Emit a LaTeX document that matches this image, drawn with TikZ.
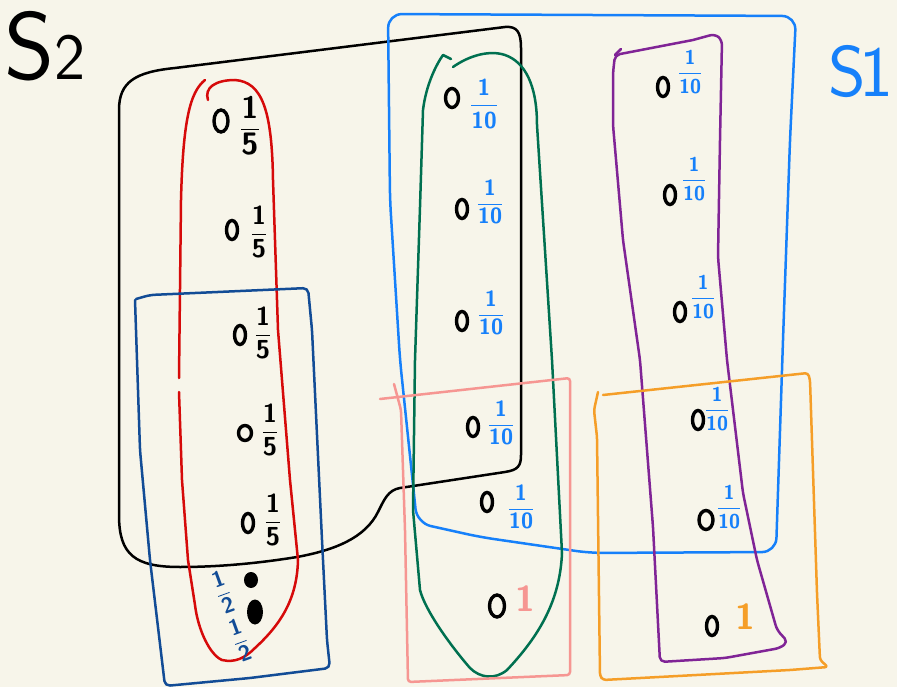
\documentclass[tikz,border=0pt]{standalone}
\usepackage{amsmath}
\usetikzlibrary{shapes.geometric}
\definecolor{bgc}{RGB}{247,245,234}
\definecolor{cred}{RGB}{214,10,10}
\definecolor{cdblue}{RGB}{18,76,150}
\definecolor{cblue}{RGB}{22,128,250}
\definecolor{cgreen}{RGB}{0,112,80}
\definecolor{cpink}{RGB}{246,150,146}
\definecolor{cpurple}{RGB}{128,36,150}
\definecolor{corange}{RGB}{245,158,40}
\newcommand\hfr[2]{$\dfrac{\textsf{\bfseries #1}}{\textsf{\bfseries #2}}$}
\tikzset{
  stroke/.style={line width=2.5pt, line cap=round, line join=round},
  pt/.style={ellipse, draw=black, line width=3.4pt, minimum width=11pt, minimum height=19pt, inner sep=0pt},
  dotf/.style={ellipse, fill=black, inner sep=0pt},
  fracl/.style={inner sep=0pt, font=\fontsize{#1}{#1}\selectfont},
  bigone/.style={inner sep=0pt, font=\sffamily\bfseries\fontsize{36}{36}\selectfont}
}
\begin{document}
\begin{tikzpicture}[x=1pt,y=-1pt]
\fill[bgc] (0,0) rectangle (897,687);
\useasboundingbox (0,0) rectangle (897,687);

% titles
\node[anchor=base west, inner sep=0pt] (s2) at (4,80) {\sffamily\fontsize{96}{96}\selectfont S\fontsize{66}{66}\selectfont 2};
\node[anchor=base west, inner sep=0pt, text=cblue] (s1) at (828,97) {\sffamily\fontsize{72}{72}\selectfont S\kern-6pt 1};

% black set S2
\draw[stroke, black] (119,330) -- (119,110) .. controls (119,82) and (135,72) .. (175,68) -- (505,27) .. controls (517,26) and (521,32) .. (521,48) -- (521,455) .. controls (521,466) and (518,470) .. (505,472) -- (400,488) .. controls (388,490) and (384,500) .. (378,512) .. controls (365,538) and (335,550) .. (297,557) .. controls (260,563) and (220,567) .. (180,567) .. controls (135,567) and (119,555) .. (119,515) -- cycle;

% red
\draw[stroke, cred] (179,378) -- (181,200) .. controls (183,120) and (190,92) .. (205,80);
\draw[stroke, cred] (208,100) .. controls (204,88) and (215,80) .. (235,80) .. controls (262,82) and (272,110) .. (273,180) -- (278,330) -- (290,480) -- (298,560) .. controls (297,600) and (280,625) .. (255,648) .. controls (245,658) and (235,663) .. (222,660) .. controls (210,655) and (198,630) .. (195,605) -- (188,560) -- (182,480) -- (179,392);

% dark blue
\draw[stroke, cdblue, rounded corners=5pt] (136,299) -- (150,295) -- (308,288) -- (312,330) -- (322,540) -- (327,640) -- (330,668) -- (250,678) -- (165,686) -- (150,560) -- (140,450) -- (135,300);

% blue S1
\draw[stroke, cblue, rounded corners=14pt] (388,14) -- (796,16) -- (790,140) -- (783,340) -- (776,552) -- (590,553) -- (480,537) -- (417,523) -- (400,360) -- (390,200) -- cycle;

% green
\draw[stroke, cgreen] (453,67) .. controls (470,55) and (490,50) .. (505,55) .. controls (525,62) and (537,85) .. (537,125) -- (552,360) -- (562,553) .. controls (560,600) and (540,635) .. (507,670) .. controls (495,680) and (480,678) .. (470,668) .. controls (450,645) and (425,610) .. (420,590) -- (413,510) -- (415,360) -- (420,207) -- (423,110) .. controls (426,85) and (436,65) .. (443,55) -- (451,59);

% pink
\draw[stroke, cpink, rounded corners=3pt] (380,399) -- (570,378) -- (570,675) -- (408,682) -- (405,530) -- (401,410) -- (394,384);

% purple
\draw[stroke, cpurple, rounded corners=5pt] (693,40) -- (615,55) -- (613,73) -- (613,125) -- (623,240) -- (640,360) -- (653,527) -- (660,662) -- (725,658) -- (780,648) -- (788,642) -- (777,630) -- (757,560) -- (743,493) -- (727,360) -- (718,257) -- (720,140) -- (722,40) -- (715,34) -- (693,40);
\draw[stroke, cpurple] (615,55) -- (621,49);

% orange
\draw[stroke, corange, rounded corners=3pt] (603,395) -- (808,373) -- (810,380) -- (817,593) -- (820,660) -- (828,667) -- (790,670) -- (603,680) -- (600,676) -- (597,437) -- (594,410) -- (598,392);

% red column points
\node[pt, minimum width=14pt, minimum height=22pt] (r1) at (221,121) {};
\node[fracl=31] (r1l) at (250,126) {\hfr{1}{5}};
\node[pt] (r2) at (232,230) {};
\node[fracl=26] (r2l) at (259,232) {\hfr{1}{5}};
\node[pt] (r3) at (240,335) {};
\node[fracl=26] (r3l) at (263,333) {\hfr{1}{5}};
\node[pt, minimum width=13pt, minimum height=15pt] (r4) at (245,433) {};
\node[fracl=26] (r4l) at (270,430) {\hfr{1}{5}};
\node[pt] (r5) at (248,523) {};
\node[fracl=26] (r5l) at (273,520) {\hfr{1}{5}};
\node[dotf, minimum width=14pt, minimum height=16pt] (r6) at (251,580) {};
\node[dotf, minimum width=16pt, minimum height=25pt] (r7) at (255,612) {};
\node[fracl=22, text=cdblue, rotate=20] (r6l) at (223,592) {\hfr{1}{2}};
\node[fracl=22, text=cdblue, rotate=20] (r7l) at (240,640) {\hfr{1}{2}};

% green column points
\node[pt, minimum width=13pt] (g1) at (452,98) {};
\node[fracl=23, text=cblue] (g1l) at (484,104) {\hfr{1}{10}};
\node[pt] (g2) at (462,209) {};
\node[fracl=22, text=cblue] (g2l) at (490,202) {\hfr{1}{10}};
\node[pt] (g3) at (462,321) {};
\node[fracl=22, text=cblue] (g3l) at (491,313) {\hfr{1}{10}};
\node[pt] (g4) at (473,427) {};
\node[fracl=22, text=cblue] (g4l) at (501,423) {\hfr{1}{10}};
\node[pt] (g5) at (487,502) {};
\node[fracl=22, text=cblue] (g5l) at (521,507) {\hfr{1}{10}};
\node[pt, minimum width=15pt, minimum height=22pt] (g6) at (497,606) {};
\node[bigone, text=cpink] (g6l) at (525,599) {1};

% purple column points
\node[pt] (p1) at (663,87) {};
\node[fracl=20, text=cblue] (p1l) at (690,72) {\hfr{1}{10}};
\node[pt] (p2) at (670,195) {};
\node[fracl=20, text=cblue] (p2l) at (694,179) {\hfr{1}{10}};
\node[pt] (p3) at (680,312) {};
\node[fracl=20, text=cblue] (p3l) at (703,297) {\hfr{1}{10}};
\node[pt] (p4) at (698,420) {};
\node[fracl=20, text=cblue] (p4l) at (717,409) {\hfr{1}{10}};
\node[pt, minimum width=14pt] (p5) at (706,520) {};
\node[fracl=20, text=cblue] (p5l) at (729,507) {\hfr{1}{10}};
\node[pt] (p6) at (712,626) {};
\node[bigone, text=corange] (p6l) at (745,617) {1};
\end{tikzpicture}
\end{document}
